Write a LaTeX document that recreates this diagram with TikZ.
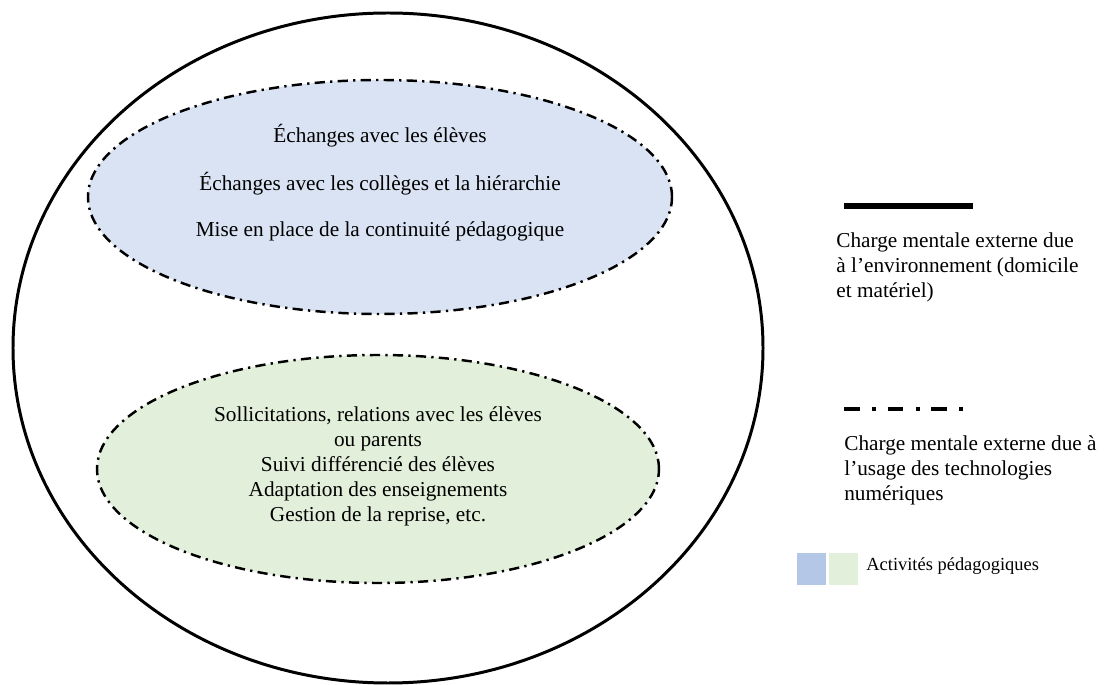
\documentclass[tikz,border=0pt]{standalone}
\usepackage{fontspec}
\setmainfont{Liberation Serif}
\usetikzlibrary{positioning}
\definecolor{actblue}{HTML}{DAE3F3}
\definecolor{actgreen}{HTML}{E2EFDA}
\definecolor{keyblue}{HTML}{B4C7E7}
\definecolor{keygreen}{HTML}{E2EFDA}

\begin{document}
\begin{tikzpicture}[
  txt/.style={font=\fontsize{12.1}{14.2}\selectfont,text=black,inner sep=0pt},
  numline/.style={draw=black,line width=1.4pt,dash pattern=on 5.8pt off 3pt on 1.3pt off 3pt},
  envline/.style={draw=black,line width=1.7pt}]
\useasboundingbox (0,0) rectangle (22.08,13.68);
\draw[envline] (7.76,6.72) ellipse (7.5 and 6.7);
\draw[numline,fill=actblue] (7.6,9.74) ellipse (5.84 and 2.34);
\draw[numline,fill=actgreen] (7.56,4.3) ellipse (5.62 and 2.28);

\node[txt,anchor=center] (eleves) at (7.6, 10.96) {Échanges avec les élèves};
\node[txt,anchor=center] (colleges) at (7.6, 10.0) {Échanges avec les collèges et la hiérarchie};
\node[txt,anchor=center] (continuite) at (7.6, 9.05) {Mise en place de la continuité pédagogique};
\node[txt,align=center,anchor=center] (suivi) at (7.56, 4.36) {Sollicitations, relations avec les élèves\\ou parents\\Suivi différencié des élèves\\Adaptation des enseignements\\Gestion de la reprise, etc.};

\coordinate (envA) at (16.88,9.56);
\coordinate (envB) at (19.46,9.56);
\draw[black,line width=3.4pt] (envA) -- (envB);
\node[txt,align=left,anchor=north west] (envtext) at (16.72, 9.03) {Charge mentale externe due\\à l’environnement (domicile\\et matériel)};

\coordinate (numA) at (16.88,5.5);
\coordinate (numB) at (19.34,5.5);
\draw[black,line width=2.8pt,dash pattern=on 9pt off 7pt on 2.3pt off 6.5pt] (numA) -- (numB);
\node[txt,align=left,anchor=north west] (numtext) at (16.88, 4.98) {Charge mentale externe due à\\l’usage des technologies\\numériques};

\fill[keyblue] (15.94,1.98) rectangle (16.52,2.62);
\fill[keygreen] (16.58,1.98) rectangle (17.16,2.62);
\node[font=\fontsize{10.5}{12}\selectfont,text=black,inner sep=0pt,anchor=west] (activites) at (17.32, 2.36) {Activités pédagogiques};
\end{tikzpicture}
\end{document}
